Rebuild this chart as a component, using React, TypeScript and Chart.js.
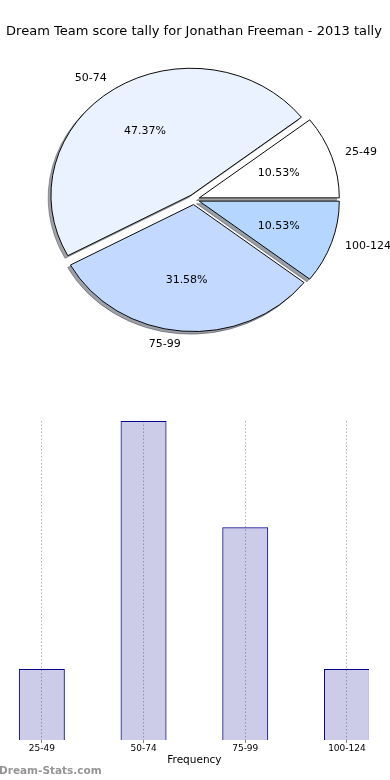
import React, { useEffect, useRef } from "react";
import { Chart, registerables } from "chart.js";

Chart.register(...registerables);
Chart.defaults.font.family = "'DejaVu Sans', sans-serif";

const title = "Dream Team score tally for Jonathan Freeman - 2013 tally";
const categories = ["25-49", "50-74", "75-99", "100-124"];
const counts = [2, 9, 6, 2];
const pieColors = ["#ffffff", "#eaf1ff", "#c4d9ff", "#b4d6ff"];
const xAxisTitle = "Frequency";
const watermark = "Dream-Stats.com";

const EXPLODE = 0.04;
const SY = 127 / 140;

function shadowOf(hex: string): string {
  const r = parseInt(hex.slice(1, 3), 16);
  const g = parseInt(hex.slice(3, 5), 16);
  const b = parseInt(hex.slice(5, 7), 16);
  return `rgba(${Math.round(r * 0.3)},${Math.round(g * 0.3)},${Math.round(b * 0.3)},0.5)`;
}

// pie order reversed so that clockwise drawing from 3 o'clock mimics the CCW original
const pieLabels = [...categories].reverse();
const pieValues = [...counts].reverse();
const pieFill = [...pieColors].reverse();
const pieShadow = pieFill.map(shadowOf);

const piePlugin = {
  id: "pieDraw",
  beforeDatasetsDraw(chart: any) {
    const ctx = chart.ctx as CanvasRenderingContext2D;
    const meta = chart.getDatasetMeta(0);
    const arcs = meta.data as any[];
    if (!arcs.length) return false;
    const cx = arcs[0].x;
    const cy = arcs[0].y;
    ctx.save();
    ctx.translate(cx, cy);
    ctx.scale(1, SY);
    ctx.translate(-cx, -cy);
    const drawOne = (arc: any, dx: number, dy: number, opts?: any) => {
      ctx.save();
      const mid = (arc.startAngle + arc.endAngle) / 2;
      ctx.translate(
        EXPLODE * arc.outerRadius * Math.cos(mid) + dx,
        EXPLODE * arc.outerRadius * Math.sin(mid) + dy
      );
      if (opts) {
        const s = Object.create(arc);
        s.options = { ...arc.options, ...opts };
        s.draw(ctx);
      } else {
        arc.draw(ctx);
      }
      ctx.restore();
    };
    arcs.forEach((a, i) =>
      drawOne(a, -2.8, 2.6 / SY, { backgroundColor: pieShadow[i], borderColor: pieShadow[i] })
    );
    arcs.forEach((a) => drawOne(a, 0, 0));
    ctx.restore();

    const total = pieValues.reduce((s, v) => s + v, 0);
    ctx.save();
    ctx.fillStyle = "#000";
    ctx.font = "11px 'DejaVu Sans'";
    ctx.textBaseline = "middle";
    arcs.forEach((arc, i) => {
      const mid = (arc.startAngle + arc.endAngle) / 2;
      const R = arc.outerRadius;
      const c = Math.cos(mid);
      const s = Math.sin(mid);
      const x0 = cx + EXPLODE * R * c;
      const y0 = cy + EXPLODE * R * s * SY;
      ctx.textAlign = c > 0 ? "left" : "right";
      ctx.fillText(pieLabels[i], x0 + 1.1 * R * c, y0 + 1.1 * R * s * SY);
      ctx.textAlign = "center";
      const pct = ((pieValues[i] / total) * 100).toFixed(2) + "%";
      ctx.fillText(pct, x0 + 0.6 * R * c, y0 + 0.6 * R * s * SY);
    });
    ctx.restore();
    return false;
  },
};

export default function App() {
  const pieRef = useRef<HTMLCanvasElement>(null);
  const barRef = useRef<HTMLCanvasElement>(null);

  useEffect(() => {
    const pie = new Chart(pieRef.current!, {
      type: "pie",
      data: {
        labels: pieLabels,
        datasets: [
          {
            data: pieValues,
            backgroundColor: pieFill,
            borderColor: "#000",
            borderWidth: 1,
          },
        ],
      },
      options: {
        responsive: false,
        animation: false,
        rotation: 90,
        radius: 140,
        layout: { padding: { left: 0, right: 2, top: 0, bottom: 20.6 } },
        plugins: {
          legend: { display: false },
          tooltip: { enabled: false },
          title: {
            display: true,
            text: title,
            color: "#000",
            font: { family: "'DejaVu Sans'", size: 13, weight: "normal" },
            padding: { top: 24, bottom: 0 },
          },
        },
      } as any,
      plugins: [piePlugin],
    });

    const bar = new Chart(barRef.current!, {
      type: "bar",
      data: {
        labels: categories,
        datasets: [
          {
            data: counts,
            backgroundColor: "rgba(0,0,139,0.2)",
            borderColor: "#00008b",
            borderWidth: 1,
            barPercentage: 0.452,
            categoryPercentage: 1,
          },
        ],
      },
      options: {
        responsive: false,
        animation: false,
        layout: { padding: { left: 0, right: 13.2, top: 21, bottom: 13.6 } },
        plugins: { legend: { display: false }, tooltip: { enabled: false } },
        scales: {
          x: {
            offset: true,
            grid: {
              display: true,
              offset: false,
              color: "#b4b4b4",
              lineWidth: 1,
              drawTicks: true,
              tickLength: 3,
              tickColor: "#888",
              tickBorderDash: [],
            },
            border: { display: false, dash: [1.5, 2] },
            ticks: {
              font: { size: 9 },
              color: "#000",
              padding: 0,
              maxRotation: 0,
              autoSkip: false,
            },
            title: {
              display: true,
              text: xAxisTitle,
              color: "#000",
              font: { size: 10.5 },
              padding: { top: 0, bottom: 0 },
            },
          },
          y: { display: false, min: 0, max: 9 },
        },
      } as any,
    });

    return () => {
      pie.destroy();
      bar.destroy();
    };
  }, []);

  return (
    <div style={{ position: "absolute", left: 0, top: 0, width: 390, height: 780, background: "#fff", overflow: "hidden" }}>
      <canvas
        ref={pieRef}
        width={390}
        height={380}
        style={{ position: "absolute", left: 0, top: 0, width: 390, height: 380 }}
      />
      <div style={{ position: "absolute", left: 0, top: 400, width: 369, height: 380, overflow: "hidden" }}>
        <canvas
          ref={barRef}
          width={420}
          height={380}
          style={{ position: "absolute", left: -9, top: 0, width: 420, height: 380 }}
        />
      </div>
      <div
        style={{
          position: "absolute",
          left: -1,
          top: 762,
          fontFamily: "'DejaVu Sans', sans-serif",
          fontWeight: "bold",
          fontSize: 10.5,
          lineHeight: "16px",
          color: "#959595",
        }}
      >
        {watermark}
      </div>
    </div>
  );
}
